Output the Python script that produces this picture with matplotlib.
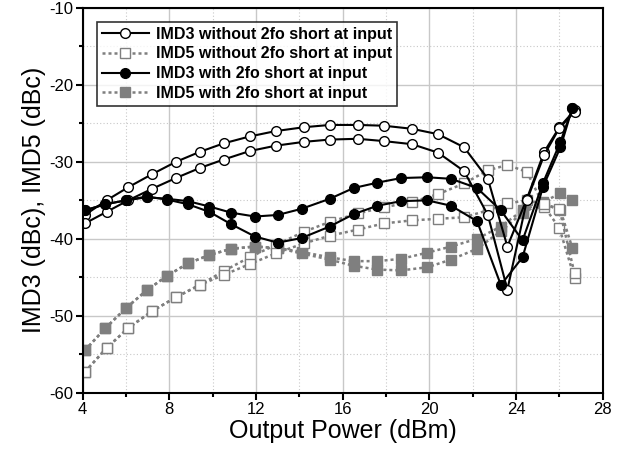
import numpy as np
import matplotlib
matplotlib.use("Agg")
import matplotlib.pyplot as plt
from matplotlib.ticker import MultipleLocator

plt.rcParams['font.family'] = ['Liberation Sans', 'DejaVu Sans']
plt.rcParams['axes.unicode_minus'] = False

# output power points (dBm)
x_without = [4.1, 5.1, 6.1, 7.2, 8.3, 9.4, 10.5, 11.7, 12.9, 14.2, 15.4, 16.7,
             17.9, 19.2, 20.4, 21.6, 22.7, 23.6, 24.5, 25.3, 26.0, 26.7]
x_with = [4.1, 5.05, 6.0, 6.95, 7.9, 8.85, 9.85, 10.85, 11.95, 13.0, 14.1, 15.4,
          16.5, 17.6, 18.7, 19.9, 21.0, 22.2, 23.3, 24.3, 25.25, 26.05, 26.6]

# IMD3 without 2fo short (two tones: upper / lower)
imd3_wo_a = [-36.9, -35.0, -33.3, -31.6, -30.0, -28.7, -27.6, -26.7, -26.0, -25.5, -25.2, -25.2,
             -25.3, -25.7, -26.4, -28.1, -32.2, -41.0, -34.8, -28.7, -25.5, -23.3]
imd3_wo_b = [-38.0, -36.5, -35.0, -33.5, -32.1, -30.8, -29.7, -28.6, -27.9, -27.4, -27.1, -27.0,
             -27.3, -27.7, -28.8, -31.2, -36.9, -46.6, -35.0, -29.1, -25.6, -23.5]

# IMD5 without 2fo short
imd5_wo_a = [-57.3, -54.2, -51.6, -49.4, -47.6, -46.0, -44.2, -42.4, -40.8, -39.1, -37.8, -36.7,
             -35.9, -35.2, -34.2, -32.8, -31.1, -30.4, -31.3, -35.8, -38.6, -45.1]
imd5_wo_b = [-57.3, -54.2, -51.6, -49.4, -47.6, -46.0, -44.7, -43.3, -41.9, -40.6, -39.6, -38.8,
             -38.0, -37.6, -37.4, -37.2, -36.3, -35.4, -35.0, -35.5, -36.1, -44.5]

# IMD3 with 2fo short
imd3_w_a = [-36.3, -35.5, -35.0, -34.6, -34.8, -35.1, -35.8, -36.6, -37.1, -36.9, -36.1, -34.8,
            -33.4, -32.7, -32.1, -32.0, -32.2, -33.4, -36.3, -40.2, -32.7, -27.4, -23.0]
imd3_w_b = [-36.3, -35.5, -35.0, -34.5, -34.9, -35.5, -36.5, -38.1, -39.7, -40.5, -39.9, -38.4,
            -36.8, -35.7, -35.1, -35.0, -35.7, -37.7, -46.0, -42.4, -33.2, -28.1, -23.0]

# IMD5 with 2fo short
imd5_w_a = [-54.5, -51.6, -49.0, -46.7, -44.8, -43.2, -42.1, -41.3, -41.0, -41.2, -41.7, -42.4,
            -42.9, -42.9, -42.6, -41.8, -41.0, -40.0, -38.4, -36.3, -35.2, -34.1, -35.0]
imd5_w_b = [-54.5, -51.6, -49.0, -46.7, -44.8, -43.2, -42.1, -41.3, -41.0, -41.2, -41.9, -42.7,
            -43.5, -44.0, -44.1, -43.7, -42.7, -41.3, -39.0, -36.6, -35.4, -36.3, -41.2]

labels = ['IMD3 without 2fo short at input', 'IMD5 without 2fo short at input',
          'IMD3 with 2fo short at input', 'IMD5 with 2fo short at input']

fig = plt.figure(figsize=(6.39, 4.59), dpi=100)
ax = fig.add_axes([0.1294, 0.1444, 0.8138, 0.8382])

gray = '#7f7f7f'
imd5_style = dict(color=gray, ls=(0, (1.2, 1.2)), lw=1.8, marker='s', ms=6.5)
imd3_style = dict(color='black', ls='-', lw=1.5, marker='o', ms=7)

# IMD5 first so IMD3 sits on top
ax.plot(x_with, imd5_w_a, mfc=gray, mec=gray, label=labels[3], **imd5_style)
ax.plot(x_with, imd5_w_b, mfc=gray, mec=gray, **imd5_style)
ax.plot(x_without, imd5_wo_a, mfc='white', mec=gray, mew=1.0, label=labels[1], **imd5_style)
ax.plot(x_without, imd5_wo_b, mfc='white', mec=gray, mew=1.0, **imd5_style)

ax.plot(x_without, imd3_wo_a, mfc='white', mec='black', mew=1.0, label=labels[0], **imd3_style)
ax.plot(x_without, imd3_wo_b, mfc='white', mec='black', mew=1.0, **imd3_style)
ax.plot(x_with, imd3_w_a, mfc='black', mec='black', label=labels[2], **imd3_style)
ax.plot(x_with, imd3_w_b, mfc='black', mec='black', **imd3_style)

ax.set_xlim(4, 28)
ax.set_ylim(-60, -10)
ax.xaxis.set_major_locator(MultipleLocator(4))
ax.xaxis.set_minor_locator(MultipleLocator(2))
ax.yaxis.set_major_locator(MultipleLocator(10))
ax.yaxis.set_minor_locator(MultipleLocator(5))
ax.grid(which='major', color='#c8c8c8', lw=1.0, ls='-')
ax.grid(which='minor', color='#c8c8c8', lw=0.8, ls=(0, (1, 2)))
ax.set_axisbelow(True)
for s in ax.spines.values():
    s.set_linewidth(1.5)
ax.tick_params(which='major', direction='out', length=5, width=1.5, labelsize=12, pad=2)
ax.tick_params(which='minor', direction='out', length=3, width=1.5)

ax.set_xlabel('Output Power (dBm)', fontsize=18, labelpad=1)
ax.set_ylabel('IMD3 (dBc), IMD5 (dBc)', fontsize=18, labelpad=2)

handles, labs = ax.get_legend_handles_labels()
order = [labels.index(l) for l in labs]
h_sorted = [h for _, h in sorted(zip(order, handles))]
leg = ax.legend(h_sorted, labels, loc='upper left', bbox_to_anchor=(0.027, 0.964),
                prop={'weight': 'bold', 'size': 11.5}, frameon=True, fancybox=False,
                edgecolor='black', handlelength=3.0, handletextpad=0.4,
                labelspacing=0.3, borderpad=0.3, borderaxespad=0)
leg.get_frame().set_linewidth(1.2)

fig.savefig('out.png', dpi=100)
